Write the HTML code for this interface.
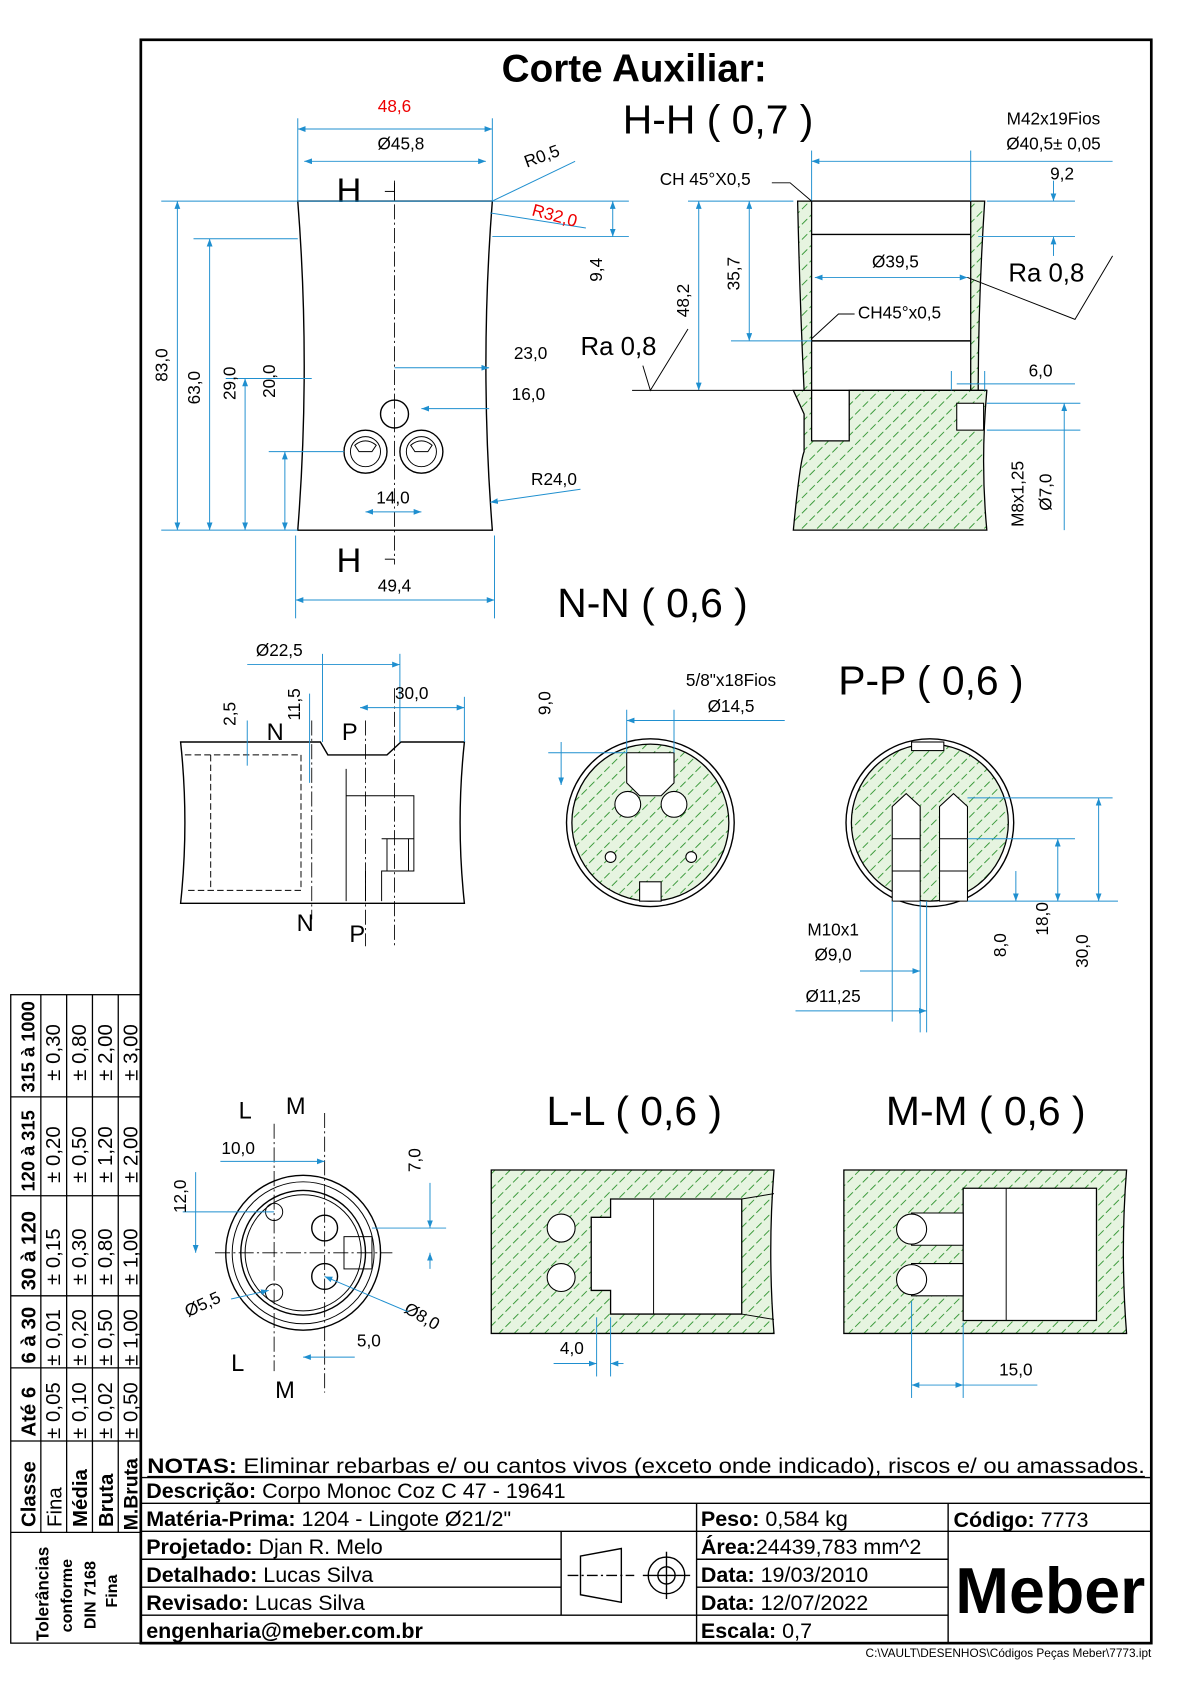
<!DOCTYPE html>
<html><head><meta charset="utf-8"><style>
html,body{margin:0;padding:0;background:#fff}
svg{display:block}
text{font-family:"Liberation Sans",Arial,sans-serif}
.d{stroke:#1f8fcf;stroke-width:0.9;fill:none}
.l{stroke:#000;stroke-width:1.3;fill:none}
.t{stroke:#000;stroke-width:0.9;fill:none}
.c{stroke:#000;stroke-width:0.8;fill:none;stroke-dasharray:14 3 2 3}
.h{fill:url(#hat);stroke:#000;stroke-width:1.2}
.dt{font-size:16px;fill:#000}
.r{fill:#e00}
</style></head><body>
<svg width="1190" height="1684" viewBox="0 0 1107 1566" preserveAspectRatio="none" xmlns="http://www.w3.org/2000/svg">
<defs>
<pattern id="hat" patternUnits="userSpaceOnUse" width="10" height="10" patternTransform="rotate(-45)">
<rect width="10" height="10" fill="#e6f4e0"/>
<line x1="0" y1="5" x2="10" y2="5" stroke="#3c9a3c" stroke-width="0.9" stroke-dasharray="7 3"/>
</pattern>
<marker id="a" markerWidth="8" markerHeight="6" refX="8" refY="3" orient="auto-start-reverse"><path d="M0,0 L8,3 L0,6z" fill="#1f8fcf"/></marker>
</defs>
<rect width="1107" height="1566" fill="#fff"/>
<!-- frame -->
<rect x="131" y="37" width="940" height="1491" fill="none" stroke="#000" stroke-width="2.5"/>
<text x="590" y="76" font-size="36" font-weight="bold" text-anchor="middle">Corte Auxiliar:</text>

<!-- ========== View 1 ========== -->
<path class="l" d="M277,187 L458,187 Q446,340 458,493 L277,493 Q289,340 277,187Z"/>
<line class="c" x1="367" y1="168" x2="367" y2="525"/>
<text x="313" y="188" font-size="32">H</text><line class="t" x1="367" y1="170" x2="367" y2="186"/><line class="t" x1="358" y1="178" x2="367" y2="178"/>
<text x="313" y="532" font-size="32">H</text><line class="t" x1="358" y1="520" x2="367" y2="520"/>
<circle class="l" cx="367" cy="385" r="13"/>
<circle class="l" cx="340" cy="420" r="20"/><circle class="t" cx="340" cy="420" r="14"/><path class="t" d="M330,414 Q340,406 350,414 L346,420 L334,420Z"/>
<circle class="l" cx="392" cy="420" r="20"/><circle class="t" cx="392" cy="420" r="14"/><path class="t" d="M382,414 Q392,406 402,414 L398,420 L386,420Z"/>
<!-- dims -->
<line class="d" x1="277" y1="120" x2="458" y2="120" marker-start="url(#a)" marker-end="url(#a)"/>
<line class="d" x1="277" y1="110" x2="277" y2="187"/><line class="d" x1="458" y1="110" x2="458" y2="187"/>
<text x="367" y="104" class="dt r" text-anchor="middle">48,6</text>
<line class="d" x1="283" y1="150" x2="452" y2="150" marker-start="url(#a)" marker-end="url(#a)"/>
<text x="373" y="139" class="dt" text-anchor="middle">Ø45,8</text>
<line class="d" x1="458" y1="187" x2="535" y2="150"/><text x="490" y="156" class="dt" transform="rotate(-20 490 156)">R0,5</text>
<line class="d" x1="456" y1="198" x2="545" y2="212"/><text x="494" y="200" class="dt r" transform="rotate(15 494 200)">R32,0</text>
<line class="d" x1="150" y1="187" x2="585" y2="187"/><line class="d" x1="458" y1="220" x2="585" y2="220"/>
<line class="d" x1="570" y1="187" x2="570" y2="220" marker-start="url(#a)" marker-end="url(#a)"/>
<text x="560" y="262" class="dt" transform="rotate(-90 560 262)">9,4</text>
<line class="d" x1="165" y1="187" x2="165" y2="493" marker-start="url(#a)" marker-end="url(#a)"/>
<text x="156" y="355" class="dt" transform="rotate(-90 156 355)">83,0</text>
<line class="d" x1="150" y1="493" x2="277" y2="493"/>
<line class="d" x1="180" y1="222" x2="277" y2="222"/>
<line class="d" x1="195" y1="222" x2="195" y2="493" marker-start="url(#a)" marker-end="url(#a)"/>
<text x="186" y="376" class="dt" transform="rotate(-90 186 376)">63,0</text>
<line class="d" x1="210" y1="352" x2="290" y2="352"/>
<line class="d" x1="228" y1="352" x2="228" y2="493" marker-start="url(#a)" marker-end="url(#a)"/>
<text x="219" y="372" class="dt" transform="rotate(-90 219 372)">29,0</text>
<line class="d" x1="250" y1="420" x2="320" y2="420"/>
<line class="d" x1="265" y1="420" x2="265" y2="493" marker-start="url(#a)" marker-end="url(#a)"/>
<text x="256" y="370" class="dt" transform="rotate(-90 256 370)">20,0</text>
<line class="d" x1="367" y1="342" x2="455" y2="342" marker-end="url(#a)"/><text x="478" y="334" class="dt">23,0</text>
<line class="d" x1="392" y1="380" x2="455" y2="380" marker-start="url(#a)"/><text x="476" y="372" class="dt">16,0</text>
<line class="d" x1="456" y1="467" x2="540" y2="455" marker-start="url(#a)"/><text x="494" y="451" class="dt">R24,0</text>
<line class="d" x1="340" y1="476" x2="392" y2="476" marker-start="url(#a)" marker-end="url(#a)"/><text x="350" y="468" class="dt">14,0</text>
<line class="d" x1="275" y1="498" x2="275" y2="575"/><line class="d" x1="460" y1="498" x2="460" y2="575"/>
<line class="d" x1="275" y1="558" x2="460" y2="558" marker-start="url(#a)" marker-end="url(#a)"/><text x="367" y="550" class="dt" text-anchor="middle">49,4</text>

<!-- ========== H-H ========== -->
<text x="668" y="124" font-size="38" text-anchor="middle">H-H ( 0,7 )</text>
<path class="h" d="M738,363 L755,363 L755,410 L790,410 L790,363 L918,363 Q912,430 918,493 L738,493 Q744,430 748,420 L748,385 Z"/>
<path class="h" d="M742,187 L755,187 L755,363 L748,363 Q744,280 742,187Z"/>
<path class="h" d="M903,187 L916,187 Q910,280 910,363 L903,363Z"/>
<rect x="890" y="375" width="25" height="25" fill="#fff" stroke="#000"/>
<path class="l" d="M755,187 L903,187 M755,218 L903,218 M755,317 L903,317 M755,363 L918,363"/>
<line class="d" x1="755" y1="140" x2="755" y2="187"/><line class="d" x1="903" y1="140" x2="903" y2="187"/>
<line class="d" x1="755" y1="150" x2="1035" y2="150" marker-start="url(#a)"/>
<text x="980" y="116" class="dt" text-anchor="middle">M42x19Fios</text>
<text x="980" y="139" class="dt" text-anchor="middle">Ø40,5± 0,05</text>
<line class="d" x1="918" y1="187" x2="1000" y2="187"/><line class="d" x1="910" y1="220" x2="1000" y2="220"/>
<line class="d" x1="980" y1="168" x2="980" y2="187" marker-end="url(#a)"/><line class="d" x1="980" y1="220" x2="980" y2="238" marker-start="url(#a)"/>
<text x="988" y="167" class="dt" text-anchor="middle">9,2</text>
<text x="656" y="172" class="dt" text-anchor="middle">CH 45°X0,5</text><path class="t" d="M718,170 L735,170 L755,187"/>
<line class="d" x1="758" y1="258" x2="900" y2="258" marker-start="url(#a)" marker-end="url(#a)"/><text x="833" y="249" class="dt" text-anchor="middle">Ø39,5</text>
<path class="t" d="M900,258 L1000,297 L1035,238"/><text x="938" y="262" font-size="24">Ra 0,8</text>
<text x="798" y="296" class="dt">CH45°x0,5</text><path class="t" d="M795,292 L780,292 L755,315"/>
<line class="d" x1="640" y1="187" x2="738" y2="187"/><line class="d" x1="680" y1="317" x2="755" y2="317"/>
<line class="d" x1="650" y1="187" x2="650" y2="363" marker-start="url(#a)" marker-end="url(#a)"/><text x="641" y="295" class="dt" transform="rotate(-90 641 295)">48,2</text>
<line class="d" x1="697" y1="187" x2="697" y2="317" marker-start="url(#a)" marker-end="url(#a)"/><text x="688" y="270" class="dt" transform="rotate(-90 688 270)">35,7</text>
<path class="t" d="M588,363 L738,363 M598,340 L605,363 L640,306"/><text x="540" y="330" font-size="24">Ra 0,8</text>
<line class="d" x1="890" y1="357" x2="1000" y2="357"/><line class="d" x1="885" y1="345" x2="885" y2="363"/><line class="d" x1="916" y1="345" x2="916" y2="363"/>
<text x="968" y="350" class="dt" text-anchor="middle">6,0</text>
<line class="d" x1="918" y1="375" x2="1005" y2="375"/><line class="d" x1="918" y1="400" x2="1005" y2="400"/>
<line class="d" x1="990" y1="375" x2="990" y2="493" marker-start="url(#a)"/>
<text x="952" y="490" class="dt" transform="rotate(-90 952 490)">M8x1,25</text>
<text x="978" y="475" class="dt" transform="rotate(-90 978 475)">Ø7,0</text>

<!-- ========== N-N ========== -->
<text x="607" y="574" font-size="38" text-anchor="middle">N-N ( 0,6 )</text>
<path class="l" d="M168,690 L298,690 L305,702 L360,702 L373,690 L432,690 Q424,765 432,840 L168,840 Q176,765 168,690Z"/>
<path class="t" d="M172,702 L280,702 L280,828 L172,828 M196,702 L196,828" stroke-dasharray="6 3"/>
<path class="t" d="M322,715 L322,838 M322,740 L385,740 L385,810 L355,810 L355,838 M340,810 L340,838"/>
<path class="t" d="M355,780 L385,780 M360,780 L360,810 M380,780 L380,810"/>
<line class="c" x1="290" y1="670" x2="290" y2="855"/><line class="c" x1="340" y1="670" x2="340" y2="880"/><line class="c" x1="367" y1="640" x2="367" y2="880"/>
<text x="248" y="688" font-size="22">N</text><text x="318" y="688" font-size="22">P</text>
<text x="276" y="866" font-size="22">N</text><text x="325" y="876" font-size="22">P</text>
<line class="d" x1="230" y1="618" x2="372" y2="618" marker-end="url(#a)"/><line class="d" x1="300" y1="608" x2="300" y2="690"/><line class="d" x1="372" y1="608" x2="372" y2="690"/>
<text x="238" y="610" class="dt">Ø22,5</text>
<line class="d" x1="335" y1="658" x2="432" y2="658" marker-start="url(#a)" marker-end="url(#a)"/><line class="d" x1="432" y1="648" x2="432" y2="690"/>
<text x="383" y="650" class="dt" text-anchor="middle">30,0</text>
<line class="d" x1="230" y1="670" x2="230" y2="712"/><text x="219" y="675" class="dt" transform="rotate(-90 219 675)">2,5</text>
<line class="d" x1="288" y1="645" x2="288" y2="728"/><text x="279" y="670" class="dt" transform="rotate(-90 279 670)">11,5</text>

<g>
<circle cx="605" cy="765" r="78" fill="#fff" stroke="#000" stroke-width="1.3"/>
<circle cx="605" cy="765" r="73" class="h"/>
<path d="M583,700 L627,700 L627,728 L615,740 L595,740 L583,728Z" fill="#fff" stroke="#000"/>
<circle cx="584" cy="748" r="12" fill="#fff" stroke="#000"/><circle cx="627" cy="748" r="12" fill="#fff" stroke="#000"/>
<circle cx="568" cy="797" r="5" fill="#fff" stroke="#000"/><circle cx="643" cy="797" r="5" fill="#fff" stroke="#000"/>
<rect x="595" y="820" width="20" height="18" fill="#fff" stroke="#000"/>
</g>
<line class="d" x1="583" y1="670" x2="730" y2="670" marker-start="url(#a)"/><line class="d" x1="583" y1="660" x2="583" y2="700"/><line class="d" x1="627" y1="660" x2="627" y2="700"/>
<text x="680" y="638" class="dt" text-anchor="middle">5/8"x18Fios</text><text x="680" y="662" class="dt" text-anchor="middle">Ø14,5</text>
<line class="d" x1="510" y1="700" x2="583" y2="700"/><line class="d" x1="522" y1="690" x2="522" y2="730" marker-end="url(#a)"/>
<text x="512" y="665" class="dt" transform="rotate(-90 512 665)">9,0</text>

<text x="866" y="646" font-size="38" text-anchor="middle">P-P ( 0,6 )</text>
<g>
<circle cx="865" cy="765" r="78" fill="#fff" stroke="#000" stroke-width="1.3"/>
<circle cx="865" cy="765" r="73" class="h"/>
<rect x="848" y="690" width="30" height="8" fill="#fff" stroke="#000"/>
<path d="M830,838 L830,750 L843,738 L856,750 L856,838Z" fill="#fff" stroke="#000"/>
<path d="M874,838 L874,750 L887,738 L900,750 L900,838Z" fill="#fff" stroke="#000"/>
<path class="t" d="M830,780 L856,780 M830,810 L856,810 M874,780 L900,780 M874,810 L900,810"/>
</g>
<line class="d" x1="900" y1="742" x2="1035" y2="742"/><line class="d" x1="900" y1="780" x2="1000" y2="780"/><line class="d" x1="900" y1="838" x2="1040" y2="838"/>
<line class="d" x1="1022" y1="742" x2="1022" y2="838" marker-start="url(#a)" marker-end="url(#a)"/><text x="1012" y="900" class="dt" transform="rotate(-90 1012 900)">30,0</text>
<line class="d" x1="984" y1="780" x2="984" y2="838" marker-start="url(#a)" marker-end="url(#a)"/><text x="975" y="870" class="dt" transform="rotate(-90 975 870)">18,0</text>
<line class="d" x1="945" y1="810" x2="945" y2="838" marker-end="url(#a)"/><text x="936" y="890" class="dt" transform="rotate(-90 936 890)">8,0</text>
<text x="775" y="870" class="dt" text-anchor="middle">M10x1</text><text x="775" y="893" class="dt" text-anchor="middle">Ø9,0</text>
<line class="d" x1="830" y1="838" x2="830" y2="950"/><line class="d" x1="856" y1="838" x2="856" y2="960"/><line class="d" x1="862" y1="838" x2="862" y2="960"/>
<line class="d" x1="800" y1="903" x2="856" y2="903" marker-end="url(#a)"/>
<line class="d" x1="740" y1="940" x2="862" y2="940" marker-end="url(#a)"/><text x="775" y="932" class="dt" text-anchor="middle">Ø11,25</text>

<!-- ========== LM view ========== -->
<circle class="l" cx="282" cy="1165" r="72"/><circle class="t" cx="282" cy="1165" r="66"/><circle class="l" cx="282" cy="1165" r="58"/><circle class="t" cx="282" cy="1165" r="54"/>
<circle class="t" cx="255" cy="1127" r="8"/><circle class="t" cx="255" cy="1202" r="8"/>
<circle class="l" cx="302" cy="1142" r="12"/><circle class="l" cx="302" cy="1187" r="12"/>
<rect class="t" x="320" y="1150" width="26" height="30"/>
<line class="c" x1="255" y1="1045" x2="255" y2="1275"/><line class="c" x1="302" y1="1035" x2="302" y2="1295"/><line class="c" x1="200" y1="1165" x2="365" y2="1165"/>
<text x="222" y="1040" font-size="22">L</text><text x="266" y="1036" font-size="22">M</text>
<text x="215" y="1275" font-size="22">L</text><text x="256" y="1300" font-size="22">M</text>
<line class="d" x1="205" y1="1080" x2="302" y2="1080" marker-end="url(#a)"/><text x="206" y="1073" class="dt">10,0</text>
<line class="d" x1="170" y1="1127" x2="255" y2="1127"/><line class="d" x1="182" y1="1090" x2="182" y2="1165" marker-end="url(#a)"/><text x="173" y="1128" class="dt" transform="rotate(-90 173 1128)">12,0</text>
<line class="d" x1="346" y1="1142" x2="415" y2="1142"/><line class="d" x1="400" y1="1100" x2="400" y2="1142" marker-end="url(#a)"/><line class="d" x1="400" y1="1180" x2="400" y2="1165" marker-end="url(#a)"/>
<text x="391" y="1090" class="dt" transform="rotate(-90 391 1090)">7,0</text>
<text x="175" y="1225" class="dt" transform="rotate(-25 175 1225)">Ø5,5</text><line class="d" x1="215" y1="1208" x2="250" y2="1200" marker-end="url(#a)"/>
<text x="375" y="1220" class="dt" transform="rotate(30 375 1220)">Ø8,0</text><line class="d" x1="302" y1="1187" x2="380" y2="1220" marker-start="url(#a)"/>
<line class="d" x1="282" y1="1262" x2="330" y2="1262" marker-start="url(#a)"/><text x="332" y="1252" class="dt">5,0</text>

<!-- ========== L-L ========== -->
<text x="590" y="1046" font-size="38" text-anchor="middle">L-L ( 0,6 )</text>
<path class="h" d="M457,1088 L720,1088 Q714,1164 720,1240 L457,1240Z"/>
<path d="M568,1115 L690,1115 L690,1222 L568,1222 L568,1200 L550,1200 L550,1132 L568,1132Z" fill="#fff" stroke="#000" stroke-width="1.2"/>
<path class="t" d="M608,1115 L608,1222 M690,1115 L720,1110 M690,1222 L720,1227"/>
<circle cx="522" cy="1142" r="13" fill="#fff" stroke="#000"/><circle cx="522" cy="1188" r="13" fill="#fff" stroke="#000"/>
<line class="d" x1="555" y1="1225" x2="555" y2="1280"/><line class="d" x1="568" y1="1225" x2="568" y2="1280"/>
<line class="d" x1="515" y1="1268" x2="555" y2="1268" marker-end="url(#a)"/><line class="d" x1="568" y1="1268" x2="580" y2="1268" marker-start="url(#a)"/>
<text x="532" y="1259" class="dt" text-anchor="middle">4,0</text>

<!-- ========== M-M ========== -->
<text x="917" y="1046" font-size="38" text-anchor="middle">M-M ( 0,6 )</text>
<path class="h" d="M785,1088 L1048,1088 Q1042,1164 1048,1240 L785,1240Z"/>
<path d="M896,1105 L1020,1105 L1020,1228 L896,1228Z" fill="#fff" stroke="#000" stroke-width="1.2"/>
<path class="t" d="M936,1105 L936,1228"/>
<path d="M848,1128 L896,1128 L896,1158 L848,1158Z M848,1175 L896,1175 L896,1205 L848,1205Z" fill="#fff" stroke="#000"/>
<circle cx="848" cy="1143" r="14" fill="#fff" stroke="#000"/><circle cx="848" cy="1190" r="14" fill="#fff" stroke="#000"/>
<line class="d" x1="848" y1="1210" x2="848" y2="1300"/><line class="d" x1="896" y1="1230" x2="896" y2="1300"/>
<line class="d" x1="848" y1="1288" x2="896" y2="1288" marker-start="url(#a)" marker-end="url(#a)"/><line class="d" x1="896" y1="1288" x2="965" y2="1288"/>
<text x="945" y="1279" class="dt" text-anchor="middle">15,0</text>

<!-- ========== Tolerance table ========== -->
<g stroke="#000" stroke-width="1.2" fill="none">
<rect x="10" y="925" width="121" height="603"/>
<line x1="38" y1="925" x2="38" y2="1425"/><line x1="62" y1="925" x2="62" y2="1425"/><line x1="86" y1="925" x2="86" y2="1425"/><line x1="110" y1="925" x2="110" y2="1425"/>
<line x1="10" y1="1020" x2="131" y2="1020"/><line x1="10" y1="1112" x2="131" y2="1112"/><line x1="10" y1="1205" x2="131" y2="1205"/><line x1="10" y1="1272" x2="131" y2="1272"/><line x1="10" y1="1340" x2="131" y2="1340"/><line x1="10" y1="1425" x2="131" y2="1425"/>
</g>
<g font-size="17">
<g font-weight="bold">
<text transform="translate(32,1016) rotate(-90)">315 à 1000</text>
<text transform="translate(32,1108) rotate(-90)">120 à 315</text>
<text transform="translate(33,1200) rotate(-90)" font-size="19">30 à 120</text>
<text transform="translate(33,1268) rotate(-90)" font-size="19">6 à 30</text>
<text transform="translate(33,1336) rotate(-90)" font-size="19">Até 6</text>
<text transform="translate(33,1420) rotate(-90)" font-size="19">Classe</text>
<text transform="translate(81,1420) rotate(-90)" font-size="19">Média</text>
<text transform="translate(105,1420) rotate(-90)" font-size="19">Bruta</text>
<text transform="translate(128,1423) rotate(-90)" font-size="18">M.Bruta</text>
<text transform="translate(45,1526) rotate(-90)" font-size="16">Tolerâncias</text>
<text transform="translate(67,1518) rotate(-90)" font-size="15">conforme</text>
<text transform="translate(89,1515) rotate(-90)" font-size="15">DIN 7168</text>
<text transform="translate(109,1495) rotate(-90)" font-size="15">Fina</text>
</g>
<text transform="translate(57,1420) rotate(-90)" font-size="19">Fina</text>
<g font-size="19">
<text transform="translate(56,1005) rotate(-90)">± 0,30</text><text transform="translate(80,1005) rotate(-90)">± 0,80</text><text transform="translate(104,1005) rotate(-90)">± 2,00</text><text transform="translate(128,1005) rotate(-90)">± 3,00</text>
<text transform="translate(56,1100) rotate(-90)">± 0,20</text><text transform="translate(80,1100) rotate(-90)">± 0,50</text><text transform="translate(104,1100) rotate(-90)">± 1,20</text><text transform="translate(128,1100) rotate(-90)">± 2,00</text>
<text transform="translate(56,1195) rotate(-90)">± 0,15</text><text transform="translate(80,1195) rotate(-90)">± 0,30</text><text transform="translate(104,1195) rotate(-90)">± 0,80</text><text transform="translate(128,1195) rotate(-90)">± 1,00</text>
<text transform="translate(56,1270) rotate(-90)">± 0,01</text><text transform="translate(80,1270) rotate(-90)">± 0,20</text><text transform="translate(104,1270) rotate(-90)">± 0,50</text><text transform="translate(128,1270) rotate(-90)">± 1,00</text>
<text transform="translate(56,1338) rotate(-90)">± 0,05</text><text transform="translate(80,1338) rotate(-90)">± 0,10</text><text transform="translate(104,1338) rotate(-90)">± 0,02</text><text transform="translate(128,1338) rotate(-90)">± 0,50</text>
</g></g>

<!-- ========== Title block ========== -->
<g stroke="#000" stroke-width="1.3" fill="none">
<line x1="131" y1="1374" x2="1071" y2="1374"/>
<line x1="131" y1="1398" x2="1071" y2="1398"/>
<line x1="131" y1="1424" x2="1071" y2="1424"/>
<line x1="131" y1="1450" x2="522" y2="1450"/><line x1="648" y1="1450" x2="882" y2="1450"/>
<line x1="131" y1="1476" x2="522" y2="1476"/><line x1="648" y1="1476" x2="882" y2="1476"/>
<line x1="131" y1="1502" x2="882" y2="1502"/>
<line x1="648" y1="1398" x2="648" y2="1528"/><line x1="882" y1="1398" x2="882" y2="1528"/><line x1="522" y1="1424" x2="522" y2="1502"/>
</g>
<g stroke="#000" stroke-width="1.3" fill="none">
<path d="M540,1447 L578,1440 L578,1490 L540,1483Z"/><line x1="528" y1="1465" x2="590" y2="1465" stroke-dasharray="10 3 2 3"/>
<circle cx="620" cy="1465" r="17"/><circle cx="620" cy="1465" r="8"/><line x1="598" y1="1465" x2="642" y2="1465"/><line x1="620" y1="1443" x2="620" y2="1487"/>
</g>
<g font-size="20">
<text x="137" y="1370" textLength="928" lengthAdjust="spacingAndGlyphs"><tspan font-weight="bold">NOTAS:</tspan> Eliminar rebarbas e/ ou cantos vivos (exceto onde indicado), riscos e/ ou amassados.</text>
<line x1="137" y1="1373" x2="1065" y2="1373" stroke="#000" stroke-width="1"/>
<text x="136" y="1393"><tspan font-weight="bold">Descrição:</tspan> Corpo Monoc Coz C 47 - 19641</text>
<text x="136" y="1419"><tspan font-weight="bold">Matéria-Prima:</tspan> 1204 - Lingote Ø21/2"</text>
<text x="136" y="1445"><tspan font-weight="bold">Projetado:</tspan> Djan R. Melo</text>
<text x="136" y="1471"><tspan font-weight="bold">Detalhado:</tspan> Lucas Silva</text>
<text x="136" y="1497"><tspan font-weight="bold">Revisado:</tspan> Lucas Silva</text>
<text x="136" y="1523" font-weight="bold">engenharia@meber.com.br</text>
<text x="652" y="1419"><tspan font-weight="bold">Peso:</tspan> 0,584 kg</text>
<text x="652" y="1445"><tspan font-weight="bold">Área:</tspan>24439,783 mm^2</text>
<text x="652" y="1471"><tspan font-weight="bold">Data:</tspan> 19/03/2010</text>
<text x="652" y="1497"><tspan font-weight="bold">Data:</tspan> 12/07/2022</text>
<text x="652" y="1523"><tspan font-weight="bold">Escala:</tspan> 0,7</text>
<text x="887" y="1420"><tspan font-weight="bold">Código:</tspan> 7773</text>
</g>
<text x="977" y="1500" font-size="60" font-weight="bold" text-anchor="middle">Meber</text>
<text x="1071" y="1541" font-size="11" text-anchor="end">C:\VAULT\DESENHOS\Códigos Peças Meber\7773.ipt</text>
</svg>
</body></html>
